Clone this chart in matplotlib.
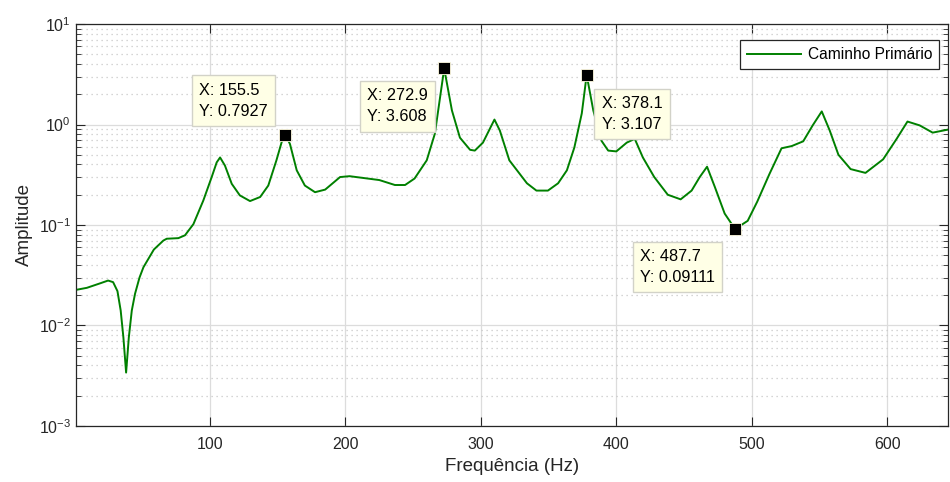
import numpy as np
import matplotlib
matplotlib.use('Agg')
import matplotlib.pyplot as plt
from matplotlib.ticker import LogLocator, MultipleLocator, NullFormatter

plt.rcParams['font.family'] = ['Liberation Sans', 'DejaVu Sans']
plt.rcParams['mathtext.fontset'] = 'custom'
plt.rcParams['mathtext.rm'] = 'Liberation Sans'
plt.rcParams['mathtext.it'] = 'Liberation Sans'

# frequency response
freq = [1.6, 9, 18.9, 24.7, 28.4, 31.6, 34, 36, 38, 40, 42.2, 44.6, 47.9, 50.8, 58.5,
        65.5, 68, 76.6, 81.5, 87.7, 95, 101.2, 104.9, 107.4, 111, 116, 122, 129.5,
        137, 143, 149, 152.9, 155.5, 159, 164, 170, 177.5, 185, 196, 203,
        225, 236.5, 244, 251, 260, 266, 272.9, 278.6, 284.5,
        292, 295.5, 301.5, 310, 314, 321, 334, 341, 349.5, 357, 363.5, 369, 374.5,
        378.1, 383, 389, 394, 400, 407.7, 413.6, 419.6, 428, 438, 447.5, 455.6,
        461.6, 467, 472.7, 480, 487.7, 497, 504, 513, 522, 529.5, 538, 545, 551.7,
        557.6, 564, 573, 584, 597, 607, 615, 624, 633.6, 645]
amp = [0.0227, 0.0237, 0.0263, 0.028, 0.027, 0.022, 0.0141, 0.0076, 0.0034, 0.0076,
       0.0141, 0.0207, 0.030, 0.038, 0.057,
       0.070, 0.073, 0.074, 0.079, 0.102, 0.175, 0.30, 0.42, 0.47, 0.39, 0.257, 0.197, 0.173,
       0.19, 0.247, 0.44, 0.67, 0.7927, 0.64, 0.35, 0.247, 0.212, 0.225, 0.30, 0.306,
       0.28, 0.25, 0.25, 0.29, 0.44, 0.81, 3.608, 1.38, 0.74,
       0.56, 0.55, 0.66, 1.12, 0.87, 0.44, 0.26, 0.22, 0.22, 0.26, 0.35, 0.59, 1.29,
       3.107, 1.38, 0.69, 0.55, 0.54, 0.66, 0.72, 0.47, 0.30, 0.20, 0.18, 0.22,
       0.30, 0.38, 0.24, 0.13, 0.09111, 0.11, 0.17, 0.32, 0.58, 0.61, 0.68, 0.98, 1.35,
       0.87, 0.50, 0.36, 0.33, 0.45, 0.72, 1.07, 0.98, 0.83, 0.89]

# data tips
tip_x = [155.5, 272.9, 378.1, 487.7]
tip_y = [0.7927, 3.608, 3.107, 0.09111]
tip_labels = ['X: 155.5\nY: 0.7927', 'X: 272.9\nY: 3.608',
              'X: 378.1\nY: 3.107', 'X: 487.7\nY: 0.09111']
tip_offsets = [(-86, 52), (-77, -20), (15, -21), (-95, -20)]

fig = plt.figure(figsize=(9.5, 4.82), dpi=100)
ax = fig.add_axes([0.08, 0.1162, 0.918, 0.834])

ax.semilogy(freq, amp, color='#008000', lw=1.4, label='Caminho Primário')
ax.plot(tip_x, tip_y, 's', color='black', markersize=9, markeredgecolor='#fffbe0',
        markeredgewidth=0.6, zorder=5)

for tx, ty, lab, off in zip(tip_x, tip_y, tip_labels, tip_offsets):
    ax.annotate(lab, xy=(tx, ty), xytext=off, textcoords='offset pixels',
                ha='left', va='top', fontsize=11.7, linespacing=1.5, zorder=6,
                bbox=dict(boxstyle='square,pad=0.45', fc='#ffffe6', ec='#d2d2c8', lw=1))

ax.set_xlim(1, 645)
ax.set_ylim(1e-3, 1e1)
ax.xaxis.set_major_locator(MultipleLocator(100))
ax.yaxis.set_major_locator(LogLocator(base=10, numticks=10))
ax.yaxis.set_minor_locator(LogLocator(base=10, subs=np.arange(2, 10), numticks=10))
ax.yaxis.set_minor_formatter(NullFormatter())

ax.grid(True, which='major', color='#dcdcdc', lw=0.9, ls='-')
ax.grid(True, which='minor', axis='y', color='#c8c8c8', lw=0.9, ls=(0, (1, 3)))
ax.set_axisbelow(True)

ax.tick_params(which='both', direction='in', top=True, right=True, colors='#262626',
               labelsize=11.5)
ax.tick_params(which='major', length=6.5, width=0.8)
ax.tick_params(which='minor', length=3.5, width=0.6)
ax.tick_params(axis='x', pad=8)
for sp in ax.spines.values():
    sp.set_color('#262626')
    sp.set_linewidth(0.9)

ax.set_xlabel('Frequência (Hz)', fontsize=13.5, color='#262626', labelpad=4)
ax.set_ylabel('Amplitude', fontsize=13.5, color='#262626', labelpad=4)

leg = ax.legend(loc='upper right', fontsize=11.2, fancybox=False, framealpha=1,
                edgecolor='#262626', borderpad=0.45, handlelength=3.5,
                handletextpad=0.4, borderaxespad=0, bbox_to_anchor=(0.9897, 0.960))
leg.get_frame().set_linewidth(0.9)

fig.savefig('out.png', dpi=100)
